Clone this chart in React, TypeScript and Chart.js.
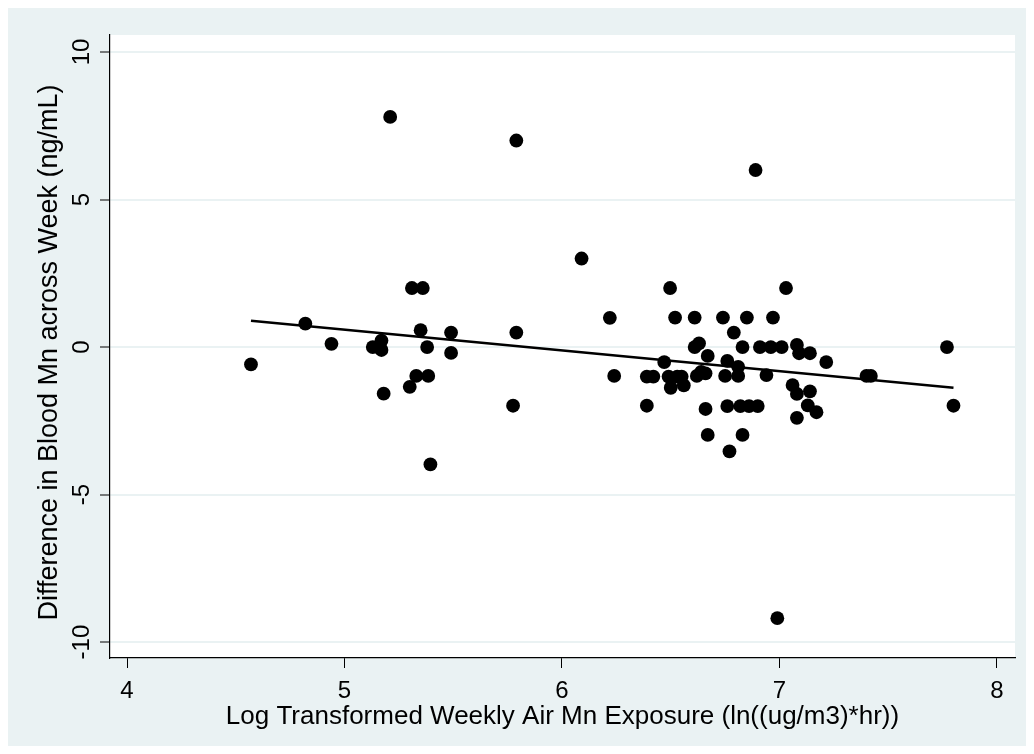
import { useEffect, useRef } from "react";
import { Chart, registerables } from "chart.js";

Chart.register(...registerables);

// ---- Data ----
const exposure = [
  4.57, 4.82, 4.94, 5.13, 5.17, 5.17, 5.18, 5.21, 5.31, 5.36,
  5.35, 5.38, 5.33, 5.385, 5.30, 5.395, 5.49, 5.49, 5.79, 5.79,
  5.775, 6.09, 6.22, 6.24, 6.39, 6.42, 6.39, 6.47, 6.497, 6.49,
  6.52, 6.53, 6.55, 6.50, 6.56, 6.61, 6.61, 6.63, 6.62, 6.64,
  6.66, 6.67, 6.66, 6.67, 6.74, 6.75, 6.76, 6.76, 6.77, 6.79,
  6.81, 6.81, 6.82, 6.83, 6.83, 6.85, 6.86, 6.89, 6.90, 6.91,
  6.94, 6.96, 6.97, 6.99, 7.01, 7.03, 7.06, 7.08, 7.09, 7.08,
  7.08, 7.13, 7.14, 7.14, 7.17, 7.215, 7.40, 7.42, 7.77, 7.80,
];
const bloodDiff = [
  -0.59, 0.79, 0.11, 0.0, 0.22, -0.1, -1.58, 7.8, 2.0, 2.0,
  0.57, 0.0, -0.98, -0.98, -1.35, -3.98, 0.49, -0.2, 7.0, 0.49,
  -1.99, 3.0, 0.99, -0.98, -1.0, -1.0, -1.99, -0.51, 2.0, -1.0,
  1.0, -1.0, -1.0, -1.38, -1.3, 1.0, 0.0, 0.12, -0.98, -0.84,
  -0.89, -0.3, -2.1, -2.98, 1.0, -0.98, -0.47, -2.0, -3.54, 0.49,
  -0.67, -0.98, -2.0, 0.0, -2.98, 1.0, -2.0, 6.0, -2.0, 0.0,
  -0.95, 0.0, 1.0, -9.19, 0.0, 2.0, -1.29, 0.07, -0.21, -1.59,
  -2.4, -1.98, -0.21, -1.5, -2.21, -0.51, -0.98, -0.98, 0.0, -1.99,
];
const fitX = [4.57, 7.8];
const fitY = [0.89, -1.38];
const xTicks = [4, 5, 6, 7, 8];
const yTicks = [-10, -5, 0, 5, 10];
const xTitle = "Log Transformed Weekly Air Mn Exposure (ln((ug/m3)*hr))";
const yTitle = "Difference in Blood Mn across Week (ng/mL)";

const BG = "#eaf2f3";
const FONT = '"Liberation Sans", Arial, Helvetica, sans-serif';

export default function App() {
  const ref = useRef<HTMLCanvasElement | null>(null);

  useEffect(() => {
    const canvas = ref.current;
    if (!canvas) return;

    const bgPlugin = {
      id: "stataBg",
      beforeDraw(chart: any) {
        const { ctx, chartArea: a, width, height } = chart;
        ctx.save();
        ctx.fillStyle = BG;
        ctx.fillRect(0, 0, width, height);
        ctx.fillStyle = "#ffffff";
        ctx.fillRect(a.left, a.top, a.right - a.left, a.bottom - a.top);
        ctx.restore();
      },
    };

    const textPlugin = {
      id: "stataText",
      afterDraw(chart: any) {
        const { ctx, chartArea: a } = chart;
        const xs = chart.scales.x;
        const ys = chart.scales.y;
        ctx.save();
        ctx.fillStyle = "#000";
        ctx.textBaseline = "alphabetic";
        ctx.textAlign = "center";
        ctx.font = `24px ${FONT}`;
        xTicks.forEach((v) => {
          ctx.fillText(String(v), xs.getPixelForValue(v), 690);
        });
        yTicks.forEach((v) => {
          ctx.save();
          ctx.translate(81, ys.getPixelForValue(v));
          ctx.rotate(-Math.PI / 2);
          ctx.fillText(String(v), 0, 0);
          ctx.restore();
        });
        ctx.font = `26px ${FONT}`;
        ctx.fillText(xTitle, (a.left + a.right) / 2, 716);
        ctx.save();
        ctx.font = `27px ${FONT}`;
        ctx.translate(49, (a.top + a.bottom) / 2 + 6);
        ctx.rotate(-Math.PI / 2);
        ctx.fillText(yTitle, 0, 0);
        ctx.restore();
        ctx.restore();
      },
    };

    const chart = new Chart(canvas, {
      type: "scatter",
      data: {
        datasets: [
          {
            type: "line",
            label: "Fitted values",
            data: fitX.map((x, i) => ({ x, y: fitY[i] })),
            borderColor: "#000",
            borderWidth: 2.5,
            pointRadius: 0,
            showLine: true,
            fill: false,
          } as any,
          {
            label: "Difference",
            data: exposure.map((x, i) => ({ x, y: bloodDiff[i] })),
            backgroundColor: "#000",
            borderColor: "#000",
            borderWidth: 0,
            pointRadius: 6.9,
            pointHoverRadius: 6.9,
          },
        ],
      },
      options: {
        responsive: false,
        animation: false,
        devicePixelRatio: 1,
        layout: { padding: { top: 27, right: 11, left: 0, bottom: 0 } },
        plugins: {
          legend: { display: false },
          tooltip: { enabled: false },
        },
        scales: {
          x: {
            type: "linear",
            min: 3.9218,
            max: 8.0828,
            afterBuildTicks: (s: any) => {
              s.ticks = xTicks.map((v) => ({ value: v }));
            },
            afterFit: (s: any) => {
              s.height = 88;
            },
            ticks: { display: false },
            grid: {
              drawOnChartArea: false,
              drawTicks: true,
              tickLength: 10,
              tickColor: "#000",
              tickWidth: 1,
            },
            border: { display: true, color: "#000", width: 1.2 },
          },
          y: {
            type: "linear",
            min: -10.54,
            max: 10.576,
            afterBuildTicks: (s: any) => {
              s.ticks = yTicks.map((v) => ({ value: v }));
            },
            afterFit: (s: any) => {
              s.width = 102;
            },
            ticks: { display: false },
            grid: {
              color: BG,
              lineWidth: 2,
              drawTicks: true,
              tickLength: 10,
              tickColor: "#000",
              tickWidth: 1,
            },
            border: { display: true, color: "#000", width: 1.2 },
          },
        },
      },
      plugins: [bgPlugin, textPlugin],
    });

    return () => chart.destroy();
  }, []);

  return (
    <canvas
      ref={ref}
      width={1018}
      height={738}
      style={{ display: "block", width: 1018, height: 738 }}
    />
  );
}
